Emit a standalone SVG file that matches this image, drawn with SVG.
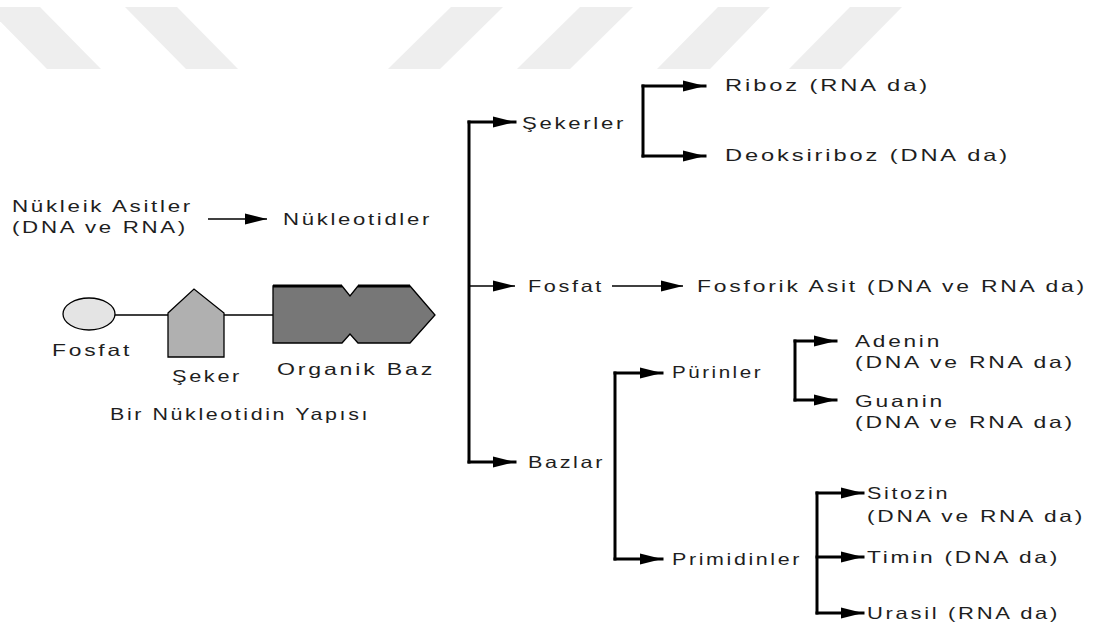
<svg xmlns="http://www.w3.org/2000/svg" width="1095" height="632" viewBox="0 0 1095 632">
<style>
text{font-family:"Liberation Sans",Arial,sans-serif;font-size:16.5px;letter-spacing:2px;fill:#1e1e1e}
.thick{fill:none;stroke:#000;stroke-width:3;stroke-linecap:square}
.thin{fill:none;stroke:#000;stroke-width:1.5}
.shape{stroke:#000;stroke-width:1.3}
.wm{fill:#eeeeee}
</style>
<defs>
<marker id="ah" markerUnits="userSpaceOnUse" markerWidth="22" markerHeight="11" refX="22" refY="5.5" orient="auto" overflow="visible">
<path d="M0,0 L22,5.5 L0,11 Z" fill="#000"/>
</marker>
</defs>
<rect width="1095" height="632" fill="#fff"/>
<g id="watermark">
<polygon class="wm" points="-14,7 40,7 101,69 47,69"/>
<polygon class="wm" points="125,7 177,7 238,69 186,69"/>
<polygon class="wm" points="451,7 503,7 440,69 388,69"/>
<polygon class="wm" points="580,7 633,7 570,69 517,69"/>
<polygon class="wm" points="718,7 770,7 710,69 657,69"/>
<polygon class="wm" points="850,7 902,7 841,69 789,69"/>
</g>
<g id="connectors">
<path class="thin" d="M208,219 H267" marker-end="url(#ah)"/>
<path class="thick" d="M469,122 V462"/>
<path class="thick" d="M469,122 H515" marker-end="url(#ah)"/>
<path class="thin" d="M469,286 H515" marker-end="url(#ah)"/>
<path class="thick" d="M469,462 H515" marker-end="url(#ah)"/>
<path class="thick" d="M643,86 V156"/>
<path class="thick" d="M643,86 H705" marker-end="url(#ah)"/>
<path class="thick" d="M643,156 H705" marker-end="url(#ah)"/>
<path class="thin" d="M612,286 H683" marker-end="url(#ah)"/>
<path class="thick" d="M615,373 V559"/>
<path class="thick" d="M615,373 H662" marker-end="url(#ah)"/>
<path class="thick" d="M615,559 H662" marker-end="url(#ah)"/>
<path class="thick" d="M795,341 V400"/>
<path class="thick" d="M795,341 H836" marker-end="url(#ah)"/>
<path class="thick" d="M795,400 H836" marker-end="url(#ah)"/>
<path class="thick" d="M817,493 V613"/>
<path class="thick" d="M817,493 H863" marker-end="url(#ah)"/>
<path class="thick" d="M817,557 H863" marker-end="url(#ah)"/>
<path class="thick" d="M817,613 H863" marker-end="url(#ah)"/>
</g>
<g id="nukleik">
<text x="12" y="212" textLength="181" lengthAdjust="spacingAndGlyphs">Nükleik Asitler</text>
<text x="12" y="233" textLength="176" lengthAdjust="spacingAndGlyphs">(DNA ve RNA)</text>
</g>
<g id="nukleotidler"><text x="283" y="225" textLength="149" lengthAdjust="spacingAndGlyphs">Nükleotidler</text></g>
<g id="yapi">
<path class="thin" d="M115,315 H168 M224,315 H273" style="stroke-width:1.3"/>
<ellipse class="shape" cx="89" cy="314" rx="26" ry="16" fill="#e4e4e4"/>
<path class="shape" d="M168,313 L194,289 L224,313 V357 H168 Z" fill="#b0b0b0"/>
<path class="shape" d="M273,286 H342 L350,296 L358,286 H410 L435,315 L410,343 H358 L350,334 L342,343 H273 Z" fill="#777"/>
<path d="M273,286 H342 M358,286 H410" stroke="#000" stroke-width="3"/>
<text x="52" y="356" textLength="80" lengthAdjust="spacingAndGlyphs">Fosfat</text>
<text x="172" y="382" textLength="70" lengthAdjust="spacingAndGlyphs">Şeker</text>
<text x="277" y="375" textLength="158" lengthAdjust="spacingAndGlyphs">Organik Baz</text>
<text x="110" y="420" textLength="260" lengthAdjust="spacingAndGlyphs">Bir Nükleotidin Yapısı</text>
</g>
<g id="sekerler"><text x="522" y="129" textLength="104" lengthAdjust="spacingAndGlyphs">Şekerler</text></g>
<g id="riboz"><text x="725" y="91" textLength="205" lengthAdjust="spacingAndGlyphs">Riboz  (RNA da)</text></g>
<g id="deoksiriboz"><text x="725" y="161" textLength="285" lengthAdjust="spacingAndGlyphs">Deoksiriboz  (DNA da)</text></g>
<g id="fosfat"><text x="528" y="292" textLength="76" lengthAdjust="spacingAndGlyphs">Fosfat</text></g>
<g id="fosforik"><text x="697" y="292" textLength="390" lengthAdjust="spacingAndGlyphs">Fosforik Asit  (DNA ve RNA da)</text></g>
<g id="bazlar"><text x="528" y="468" textLength="77" lengthAdjust="spacingAndGlyphs">Bazlar</text></g>
<g id="purinler"><text x="672" y="378" textLength="91" lengthAdjust="spacingAndGlyphs">Pürinler</text></g>
<g id="primidinler"><text x="672" y="565" textLength="130" lengthAdjust="spacingAndGlyphs">Primidinler</text></g>
<g id="adenin">
<text x="855" y="347" textLength="87" lengthAdjust="spacingAndGlyphs">Adenin</text>
<text x="855" y="368" textLength="220" lengthAdjust="spacingAndGlyphs">(DNA ve RNA da)</text>
</g>
<g id="guanin">
<text x="855" y="407" textLength="90" lengthAdjust="spacingAndGlyphs">Guanin</text>
<text x="855" y="428" textLength="220" lengthAdjust="spacingAndGlyphs">(DNA ve RNA da)</text>
</g>
<g id="sitozin">
<text x="867" y="499" textLength="83" lengthAdjust="spacingAndGlyphs">Sitozin</text>
<text x="867" y="522" textLength="218" lengthAdjust="spacingAndGlyphs">(DNA ve RNA da)</text>
</g>
<g id="timin"><text x="867" y="563" textLength="193" lengthAdjust="spacingAndGlyphs">Timin  (DNA da)</text></g>
<g id="urasil"><text x="867" y="619" textLength="193" lengthAdjust="spacingAndGlyphs">Urasil (RNA da)</text></g>
</svg>
